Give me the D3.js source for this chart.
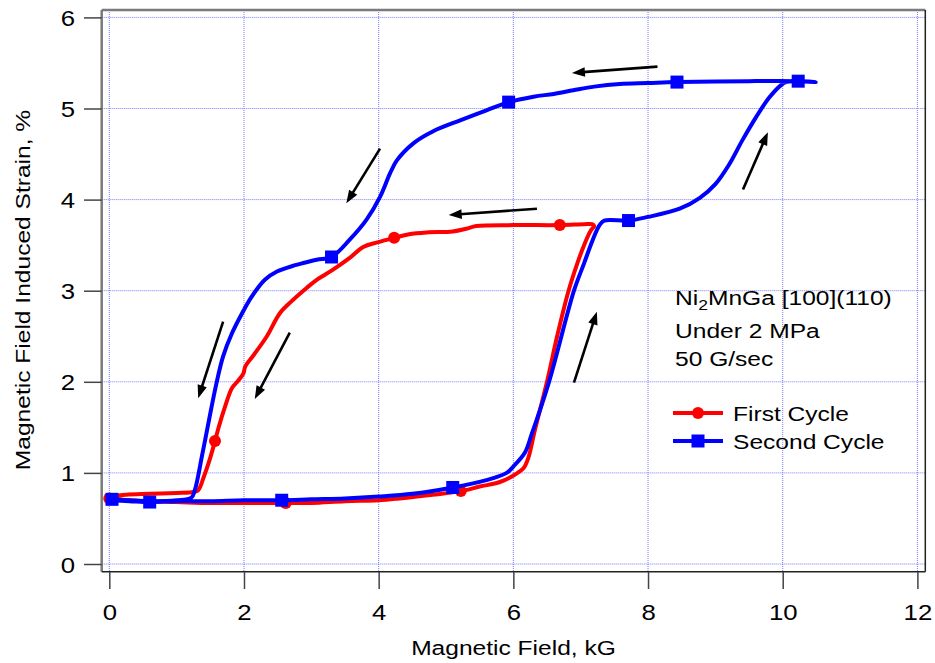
<!DOCTYPE html>
<html>
<head>
<meta charset="utf-8">
<script src="https://cdn.jsdelivr.net/npm/d3@7"></script>
<style>
  body { margin: 0; background: #fff; }
  text { font-family: "Liberation Sans", Arial, Helvetica, sans-serif; fill: #000; }
</style>
</head>
<body>
<svg id="chart" width="935" height="663"></svg>
<script>
// ---- data -------------------------------------------------------------
const xTicks = [0, 2, 4, 6, 8, 10, 12];
const yTicks = [0, 1, 2, 3, 4, 5, 6];

const seriesNames = ["First Cycle", "Second Cycle"];
const seriesColors = ["#ff0000", "#0000ff"];

// First cycle: field up along the bottom branch, back down along the top branch
const firstField = [0.00, 0.50, 1.00, 1.50, 2.00, 2.62, 3.00, 3.50, 4.00, 4.31, 4.80, 5.22, 5.50, 5.80, 6.02, 6.15, 6.22, 6.32, 6.50, 6.65, 6.82, 6.95, 7.05, 7.15, 7.20, 7.17, 7.05, 6.69, 6.00, 5.45, 5.30, 5.10, 4.71, 4.45, 4.23, 3.98, 3.77, 3.57, 3.30, 3.08, 2.93, 2.70, 2.53, 2.34, 2.15, 2.02, 1.99, 1.90, 1.82, 1.72, 1.62, 1.57, 1.48, 1.40, 1.32, 1.25, 1.00, 0.60, 0.25, 0.05, 0.00];
const firstStrain = [0.72, 0.69, 0.68, 0.67, 0.67, 0.67, 0.67, 0.69, 0.70, 0.72, 0.76, 0.80, 0.85, 0.90, 0.98, 1.05, 1.16, 1.47, 2.00, 2.50, 3.00, 3.30, 3.50, 3.66, 3.71, 3.73, 3.73, 3.72, 3.72, 3.71, 3.68, 3.65, 3.64, 3.62, 3.58, 3.53, 3.48, 3.36, 3.22, 3.12, 3.03, 2.88, 2.75, 2.50, 2.30, 2.17, 2.09, 2.00, 1.93, 1.73, 1.49, 1.35, 1.12, 0.95, 0.81, 0.79, 0.78, 0.77, 0.76, 0.74, 0.72];
const firstMarkerField  = [0.00, 2.62, 5.22, 6.69, 4.23, 1.57];
const firstMarkerStrain = [0.72, 0.67, 0.80, 3.72, 3.58, 1.35];

// Second cycle
const secondField = [0.00, 0.30, 0.60, 1.00, 1.50, 2.00, 2.56, 3.00, 3.50, 4.00, 4.50, 5.10, 5.60, 5.90, 6.00, 6.17, 6.27, 6.53, 6.90, 7.05, 7.18, 7.28, 7.35, 7.71, 8.00, 8.47, 8.77, 9.00, 9.20, 9.40, 9.60, 9.80, 9.98, 10.05, 10.23, 10.49, 10.20, 9.50, 8.43, 8.00, 7.58, 7.20, 6.89, 6.60, 6.30, 5.93, 5.60, 5.21, 4.81, 4.52, 4.27, 4.17, 4.02, 3.82, 3.57, 3.30, 3.08, 2.86, 2.76, 2.49, 2.31, 2.11, 1.97, 1.82, 1.69, 1.59, 1.47, 1.38, 1.27, 1.22, 1.00, 0.60, 0.30, 0.04];
const secondStrain = [0.70, 0.69, 0.68, 0.69, 0.69, 0.70, 0.70, 0.71, 0.72, 0.74, 0.77, 0.84, 0.92, 1.00, 1.07, 1.22, 1.42, 2.00, 3.00, 3.30, 3.56, 3.72, 3.77, 3.77, 3.81, 3.90, 4.02, 4.17, 4.38, 4.65, 4.90, 5.12, 5.26, 5.29, 5.30, 5.29, 5.30, 5.30, 5.29, 5.28, 5.27, 5.24, 5.20, 5.16, 5.13, 5.07, 4.98, 4.87, 4.75, 4.62, 4.43, 4.29, 4.03, 3.78, 3.56, 3.37, 3.34, 3.30, 3.28, 3.21, 3.12, 2.93, 2.75, 2.53, 2.28, 1.98, 1.54, 1.20, 0.81, 0.73, 0.70, 0.69, 0.70, 0.71];
const secondMarkerField  = [0.04, 2.56, 5.10, 7.71, 10.23, 8.43, 5.93, 3.30, 0.60];
const secondMarkerStrain = [0.71, 0.70, 0.84, 3.77, 5.30, 5.29, 5.07, 3.37, 0.68];

// Direction arrows: [tail field, tail strain, tip field, tip strain]
const arrows = [
  [8.14, 5.46, 6.87, 5.39],
  [4.02, 4.56, 3.52, 3.96],
  [6.35, 3.90, 5.04, 3.83],
  [1.69, 2.66, 1.32, 1.82],
  [2.68, 2.54, 2.16, 1.81],
  [6.90, 1.99, 7.24, 2.77],
  [9.41, 4.11, 9.78, 4.74]
];

const noteLines = ["Under 2 MPa", "50 G/sec"];
const xTitle = "Magnetic Field, kG";
const yTitle = "Magnetic Field Induced Strain, %";

// ---- layout -----------------------------------------------------------
const svg = d3.select("#chart");
const box = { left: 101.7, right: 925.3, top: 10, bottom: 571.7 };
const x = d3.scaleLinear().domain([0, 12]).range([109.3, 917.4]);
const y = d3.scaleLinear().domain([0, 6]).range([564, 17.4]);
const stretch = 1.17;   // wide lettering

// grid
const grid = svg.append("g").attr("stroke", "#7a7aff").attr("stroke-width", 1)
  .attr("stroke-dasharray", "1,1");
grid.selectAll("line.gx").data(xTicks).join("line").attr("class", "gx")
  .attr("x1", d => x(d)).attr("x2", d => x(d)).attr("y1", box.top).attr("y2", box.bottom);
grid.selectAll("line.gy").data(yTicks).join("line").attr("class", "gy")
  .attr("y1", d => y(d)).attr("y2", d => y(d)).attr("x1", box.left).attr("x2", box.right);

// frame
svg.append("line").attr("x1", box.left).attr("x2", box.right).attr("y1", box.top).attr("y2", box.top)
  .attr("stroke", "#7a7a7a").attr("stroke-width", 2.5);
svg.append("line").attr("x1", box.left).attr("x2", box.left).attr("y1", box.top).attr("y2", box.bottom)
  .attr("stroke", "#7a7a7a").attr("stroke-width", 2.5);
svg.append("line").attr("x1", box.left).attr("x2", box.right).attr("y1", box.bottom).attr("y2", box.bottom)
  .attr("stroke", "#222").attr("stroke-width", 1.5);
svg.append("line").attr("x1", box.right).attr("x2", box.right).attr("y1", box.top).attr("y2", box.bottom)
  .attr("stroke", "#222").attr("stroke-width", 1.5);

// axes
const yAxis = svg.append("g").attr("transform", `translate(${box.left},0)`)
  .call(d3.axisLeft(y).tickValues(yTicks).tickSize(17.7).tickFormat(d3.format("d")));
const xAxis = svg.append("g").attr("transform", `translate(0,${box.bottom})`)
  .call(d3.axisBottom(x).tickValues(xTicks).tickSize(17.3).tickFormat(d3.format("d")));
[yAxis, xAxis].forEach(g => {
  g.select(".domain").remove();
  g.selectAll(".tick line").attr("stroke", "#444").attr("stroke-width", 1.5);
  g.selectAll(".tick text").attr("font-size", 22).attr("font-family", null).attr("fill", "#000");
});
yAxis.selectAll(".tick text").attr("x", null).attr("dy", null)
  .attr("transform", `translate(-26.5,8) scale(${stretch},1)`);
xAxis.selectAll(".tick text").attr("y", null).attr("dy", null)
  .attr("transform", `translate(0,48.5) scale(${stretch},1)`);

// axis titles
svg.append("text").attr("text-anchor", "middle").attr("font-size", 21)
  .attr("transform", `translate(${(box.left + box.right) / 2},655) scale(${stretch},1)`)
  .text(xTitle);
svg.append("text").attr("text-anchor", "middle").attr("font-size", 21)
  .attr("transform", `translate(30,290) rotate(-90) scale(${stretch},1)`)
  .text(yTitle);

// arrows
const ag = svg.append("g");
arrows.forEach(([f0, s0, f1, s1]) => {
  const tx = x(f0), ty = y(s0), hx = x(f1), hy = y(s1);
  const len = Math.hypot(hx - tx, hy - ty);
  const ux = (hx - tx) / len, uy = (hy - ty) / len;
  const headL = 13, headW = 4.8;
  const bx = hx - ux * headL, by = hy - uy * headL;
  ag.append("line").attr("x1", tx).attr("y1", ty).attr("x2", bx + ux * 2).attr("y2", by + uy * 2)
    .attr("stroke", "#000").attr("stroke-width", 2.6);
  ag.append("path").attr("fill", "#000")
    .attr("d", `M${hx},${hy}L${bx - uy * headW},${by + ux * headW}L${bx + uy * headW},${by - ux * headW}Z`);
});

// curves
const line = d3.line().x(d => x(d[0])).y(d => y(d[1])).curve(d3.curveCatmullRom.alpha(0.5));
const firstPts = firstField.map((f, i) => [f, firstStrain[i]]);
const secondPts = secondField.map((f, i) => [f, secondStrain[i]]);

svg.append("path").datum(firstPts).attr("d", line).attr("fill", "none")
  .attr("stroke", seriesColors[0]).attr("stroke-width", 4).attr("stroke-linejoin", "round");
svg.append("g").selectAll("circle").data(firstMarkerField.map((f, i) => [f, firstMarkerStrain[i]]))
  .join("circle").attr("cx", d => x(d[0])).attr("cy", d => y(d[1])).attr("r", 6)
  .attr("fill", seriesColors[0]);

svg.append("path").datum(secondPts).attr("d", line).attr("fill", "none")
  .attr("stroke", seriesColors[1]).attr("stroke-width", 4).attr("stroke-linejoin", "round");
svg.append("g").selectAll("rect").data(secondMarkerField.map((f, i) => [f, secondMarkerStrain[i]]))
  .join("rect").attr("x", d => x(d[0]) - 6.5).attr("y", d => y(d[1]) - 6.5)
  .attr("width", 13).attr("height", 13).attr("fill", seriesColors[1]);

// sample note
const note = svg.append("g");
const t0 = note.append("text").attr("font-size", 21)
  .attr("transform", `translate(675,305) scale(${stretch},1)`);
t0.append("tspan").text("Ni");
t0.append("tspan").attr("font-size", 15).attr("dy", 5).text("2");
t0.append("tspan").attr("dy", -5).text("MnGa [100](110)");
noteLines.forEach((s, i) => {
  note.append("text").attr("font-size", 21)
    .attr("transform", `translate(675,${338 + i * 28}) scale(${stretch},1)`).text(s);
});

// legend
const legend = svg.append("g");
seriesNames.forEach((name, i) => {
  const ly = 413 + i * 28;
  legend.append("line").attr("x1", 673).attr("x2", 723).attr("y1", ly).attr("y2", ly)
    .attr("stroke", seriesColors[i]).attr("stroke-width", 4);
  if (i === 0) {
    legend.append("circle").attr("cx", 698).attr("cy", ly).attr("r", 6).attr("fill", seriesColors[i]);
  } else {
    legend.append("rect").attr("x", 698 - 6.5).attr("y", ly - 6.5).attr("width", 13).attr("height", 13)
      .attr("fill", seriesColors[i]);
  }
  legend.append("text").attr("font-size", 21)
    .attr("transform", `translate(733,${ly + 7.5}) scale(${stretch},1)`).text(name);
});
</script>
</body>
</html>
